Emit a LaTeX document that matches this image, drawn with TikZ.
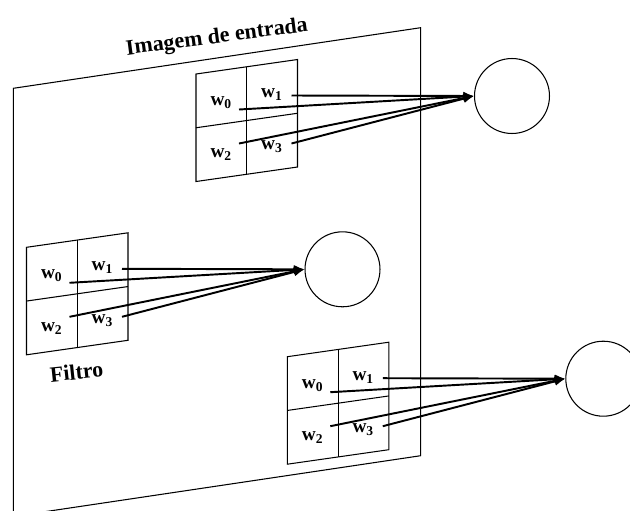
\documentclass[tikz,border=0pt]{standalone}
\usepackage{fontspec}
\setmainfont{Liberation Serif}
\usetikzlibrary{arrows.meta}
\newcommand{\filtro}[3]{
    \begin{scope}[shift={(#1,#2)}]
    \draw[fino] (0,0) -- (101.5,-14.5) -- (101.5,93) -- (0,107.5) -- cycle;
    \draw[fino] (50.75,-7.25) -- (50.75,100.25);
    \draw[fino] (0,53.75) -- (101.5,39.25);
    \node[peso] (#3-w0) at (25.3,28.5) {w\textsubscript{0}};
    \node[peso] (#3-w1) at (76,20.5) {w\textsubscript{1}};
    \node[peso] (#3-w2) at (25.3,81) {w\textsubscript{2}};
    \node[peso] (#3-w3) at (76,73) {w\textsubscript{3}};
    \coordinate (#3-s0) at (43,35.5);
    \coordinate (#3-s1) at (95.5,21.5);
    \coordinate (#3-s2) at (43,69.5);
    \coordinate (#3-s3) at (95.5,69.5);
    \node[neuronio] (#3-n) at (316,22) {};
    \end{scope}
}
\tikzset{
    fino/.style={line width=0.6pt},
    peso/.style={font=\fontsize{11}{12}\selectfont\bfseries, inner sep=0pt},
    neuronio/.style={draw, circle, line width=0.6pt, minimum size=1.5cm, inner sep=0pt},
    seta/.style={line width=1.1pt, -{Latex[length=6pt, width=5pt]}},
    rotulo/.style={font=\fontsize{12.5}{14}\selectfont\bfseries, rotate=7.5}
}

\begin{document}
\begin{tikzpicture}[x=0.02cm, y=-0.02cm]
    \useasboundingbox (0,0) rectangle (630,511);

    % plano da imagem
    \draw[fino] (13.3,88.3) -- (420.7,27.7) -- (420.7,455.7) -- (13.3,516.4) -- cycle;
    \node[rotulo] (titulo) at (217,38) {Imagem de entrada};

    \filtro{196}{74}{a};
    \filtro{26.5}{247.3}{b};
    \filtro{287.3}{356.7}{c};
    \node[rotulo, rotate=-1.5] (filtro) at (76.5,372) {Filtro};

    \foreach \f in {a,b,c}
        \foreach \i in {0,...,3}
            \draw[seta] (\f-s\i) -- (\f-n.west);
\end{tikzpicture}
\end{document}
